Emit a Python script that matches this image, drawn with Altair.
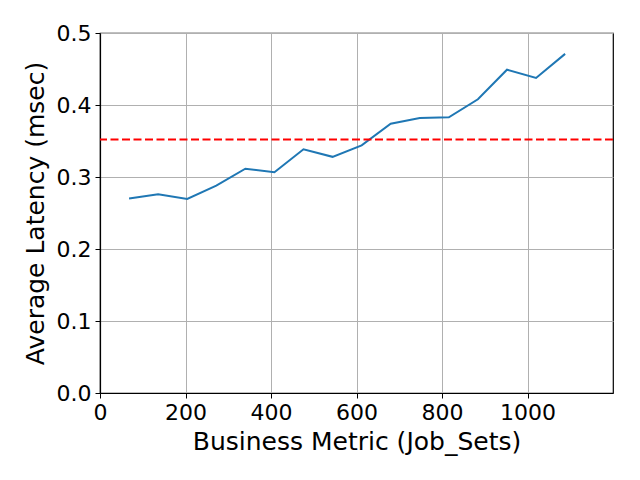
import altair as alt
import pandas as pd

business_metric = [68, 136, 204, 272, 340, 408, 476, 544, 612, 680, 748, 816, 884, 952, 1020, 1088]
avg_latency = [0.270, 0.276, 0.2695, 0.288, 0.3115, 0.3065, 0.3385, 0.328, 0.344, 0.374, 0.382, 0.383, 0.408, 0.449, 0.4375, 0.471]
threshold = [0.352]
x_ticks = [0, 200, 400, 600, 800, 1000]
y_ticks = [0.0, 0.1, 0.2, 0.3, 0.4, 0.5]

df = pd.DataFrame({"x": business_metric, "y": avg_latency})
df_thr = pd.DataFrame({"t": threshold})

FONT = "DejaVu Sans"

x_enc = alt.X("x:Q", scale=alt.Scale(domain=[0, 1200], nice=False, zero=False),
              axis=alt.Axis(values=x_ticks, title="Business Metric (Job_Sets)", format="d"))
y_enc = alt.Y("y:Q", scale=alt.Scale(domain=[0, 0.5], nice=False),
              axis=alt.Axis(values=y_ticks, title="Average Latency (msec)", format=".1f"))

line = alt.Chart(df).mark_line(color="#1f77b4", strokeWidth=2).encode(x=x_enc, y=y_enc)

rule = alt.Chart(df_thr).mark_rule(color="#ff0000", strokeWidth=2, strokeDash=[8, 3.5]).encode(
    y=alt.Y("t:Q")
)

chart = alt.layer(line, rule).properties(
    width=513, height=360,
    autosize=alt.AutoSizeParams(type="none"),
    padding={"left": 92, "top": 25, "right": 19, "bottom": 70},
).configure_view(
    stroke="black", strokeWidth=1.2
).configure_axis(
    grid=True, gridColor="#b0b0b0", gridWidth=1, gridOpacity=1,
    domain=True, domainColor="black", domainWidth=1.2,
    ticks=True, tickColor="black", tickSize=5, tickWidth=1,
    labelFont=FONT, labelFontSize=22, labelColor="black",
    titleFont=FONT, titleFontSize=25, titleFontWeight="normal", titleColor="black",
    labelPadding=4, labelFlush=False,
).configure_axisX(
    titlePadding=6
).configure_axisY(
    titlePadding=8
)

chart.save("out.html", embed_options={"renderer": "svg", "actions": False})
